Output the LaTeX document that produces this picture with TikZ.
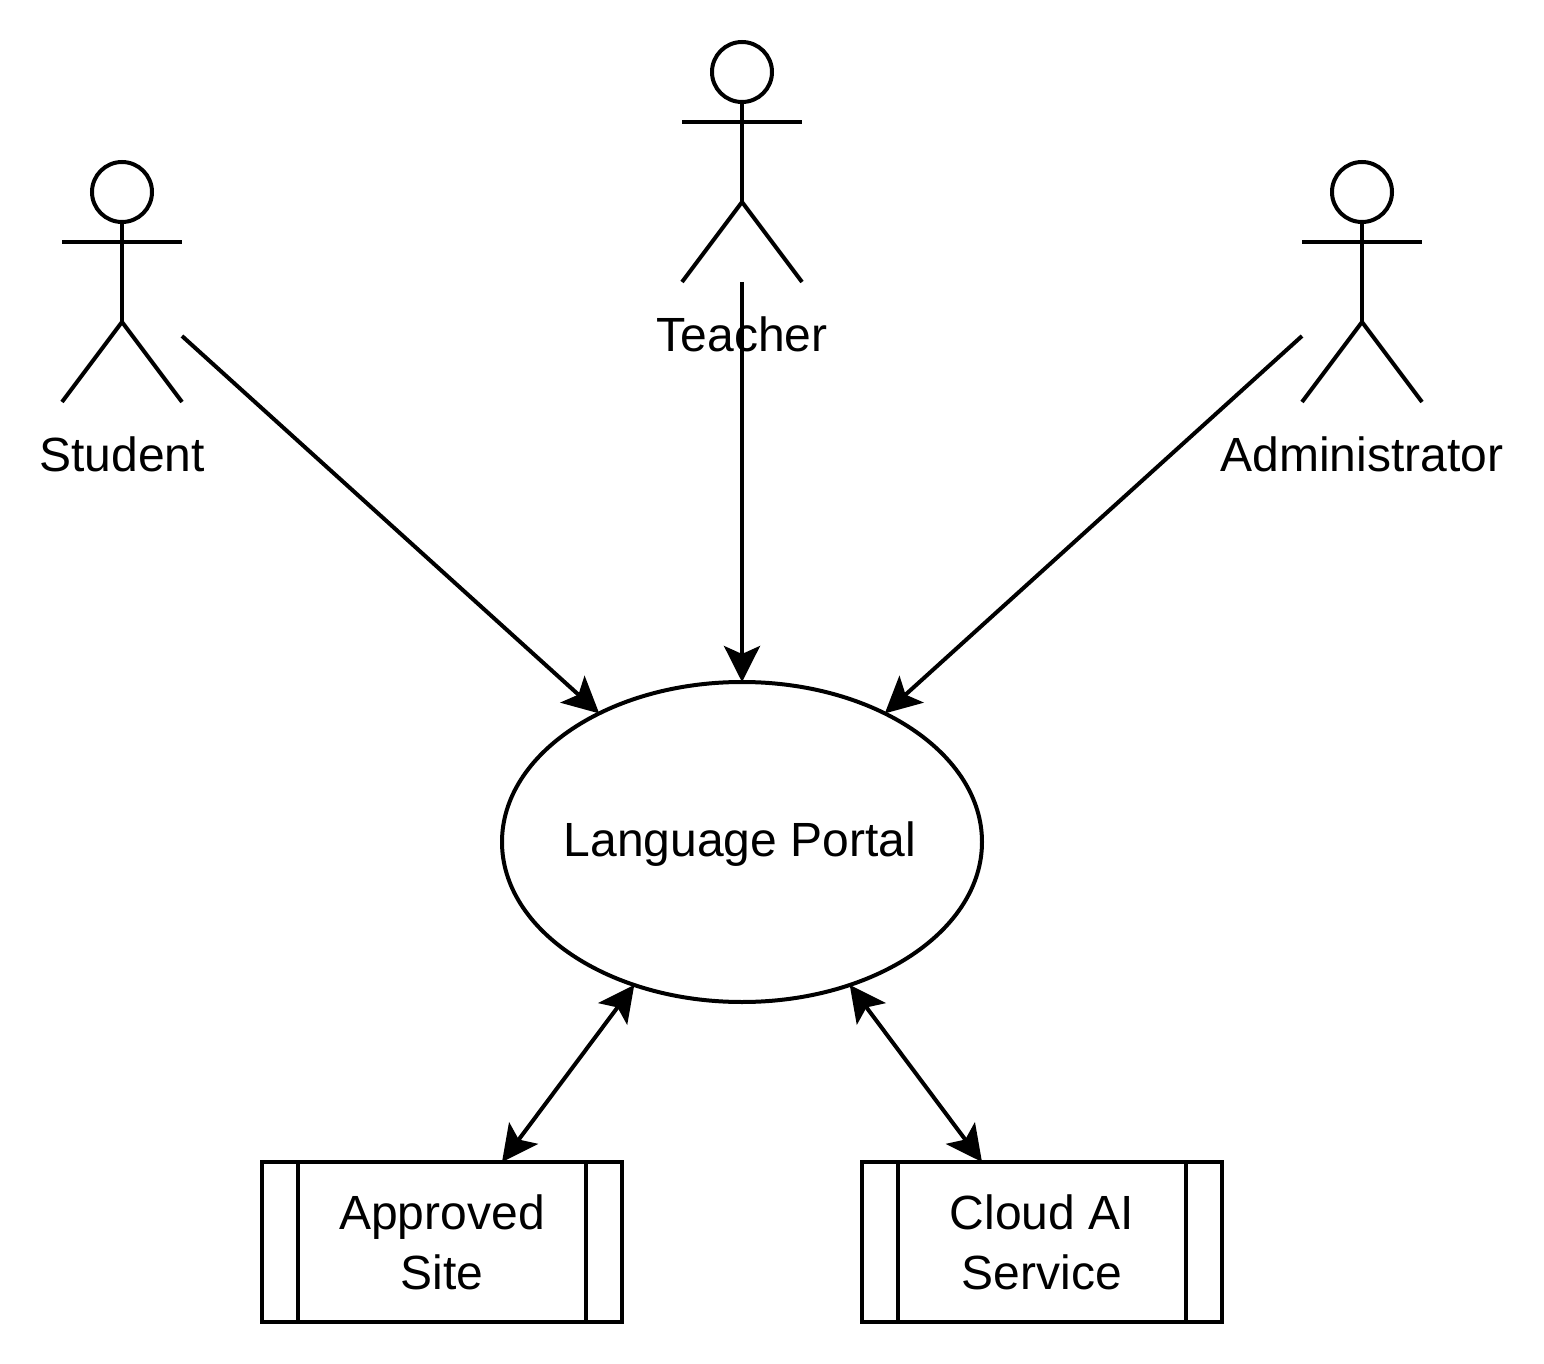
\documentclass[tikz,border=0pt]{standalone}
\usepackage{fontspec}
\setmainfont{Liberation Sans}
\usetikzlibrary{arrows.meta,shapes.geometric}
\tikzset{
  head/.style={draw, circle, minimum size=30pt, inner sep=0, outer sep=0},
  actorlabel/.style={anchor=base, inner sep=0, font=\fontsize{24}{30}\selectfont},
  service/.style={draw, minimum width=180pt, minimum height=80pt, inner sep=0, outer sep=0,
    align=center, font=\fontsize{24}{30}\selectfont},
  flow/.style={-{Stealth[length=18pt,width=18pt,inset=4pt]}},
  bothflow/.style={{Stealth[length=18pt,width=18pt,inset=4pt]}-{Stealth[length=18pt,width=18pt,inset=4pt]}},
}
\begin{document}
\begin{tikzpicture}[x=0.5pt, y=-0.5pt, line width=2pt]
        \useasboundingbox (0,0) rectangle (1544,1364);
        % actors
        \foreach \id/\name/\x/\y in {student/Student/122/192, teacher/Teacher/742/72, admin/Administrator/1362/192} {
          \node[head] (\id) at (\x,\y) {};
          \coordinate (\id hip) at (\x,\y+130);
          \draw (\id.south) -- (\id hip);
          \draw (\x-60,\y+50) -- (\x+60,\y+50);
          \draw (\x-60,\y+210) -- (\id hip) -- (\x+60,\y+210);
          \node[actorlabel] (\id label) at (\x,\y+280) {\name};
        }
        \coordinate (student hand) at (182,336);
        \coordinate (teacher foot) at (742,282);
        \coordinate (admin hand) at (1302,336);
        % system
        \node[draw, ellipse, minimum width=240pt, minimum height=160pt, inner sep=0, outer sep=0] (portal) at (742,842) {};
        \node[actorlabel] (portal label) at (740,856) {Language Portal};
        \node[service] (site) at (442,1242) {Approved\\Site};
        \node[service] (cloud) at (1042,1242) {Cloud AI\\Service};
        \foreach \svc in {site, cloud} {
          \draw ([xshift=18pt]\svc.north west) -- ([xshift=18pt]\svc.south west);
          \draw ([xshift=-18pt]\svc.north east) -- ([xshift=-18pt]\svc.south east);
        }
        % connectors
        \draw[flow] (student hand) -- (portal.138.6);
        \draw[flow] (teacher foot) -- (portal.north);
        \draw[flow] (admin hand) -- (portal.42.3);
        \draw[bothflow] (portal.233.4) -- ([xshift=30pt]site.north);
        \draw[bothflow] (portal.307.4) -- ([xshift=-30pt]cloud.north);
      \end{tikzpicture}
\end{document}
